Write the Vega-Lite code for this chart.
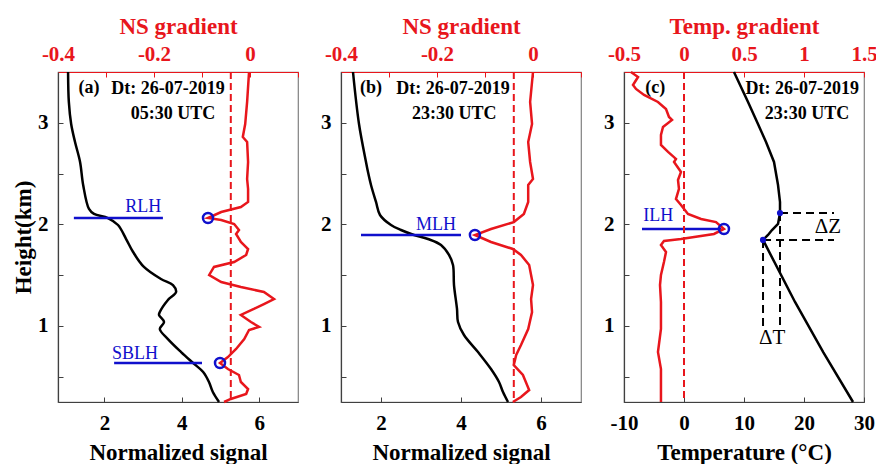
{
  "$schema": "https://vega.github.io/schema/vega-lite/v6.json",
  "background": "white",
  "padding": {"left": 11, "top": 14, "right": 5, "bottom": 5},
  "spacing": 43,
  "bounds": "flush",
  "datasets": {
    "a_sig": [{"h":3.5,"s":1.06},{"h":3.205,"s":1.08},{"h":2.988,"s":1.14},{"h":2.81,"s":1.24},{"h":2.614,"s":1.37},{"h":2.387,"s":1.45},{"h":2.151,"s":1.6},{"h":2.102,"s":1.73},{"h":2.062,"s":2.09},{"h":1.993,"s":2.35},{"h":1.855,"s":2.56},{"h":1.727,"s":2.74},{"h":1.58,"s":3.02},{"h":1.461,"s":3.46},{"h":1.402,"s":3.77},{"h":1.333,"s":3.85},{"h":1.255,"s":3.64},{"h":1.136,"s":3.43},{"h":1.107,"s":3.41},{"h":1.038,"s":3.54},{"h":0.969,"s":3.43},{"h":0.87,"s":3.64},{"h":0.742,"s":3.98},{"h":0.634,"s":4.29},{"h":0.545,"s":4.55},{"h":0.447,"s":4.7},{"h":0.348,"s":4.8},{"h":0.25,"s":4.96}],
    "a_grad": [{"h":3.5,"g":-0.002},{"h":3.205,"g":-0.006},{"h":2.988,"g":-0.01},{"h":2.86,"g":-0.015},{"h":2.81,"g":-0.006},{"h":2.614,"g":-0.004},{"h":2.446,"g":-0.006},{"h":2.348,"g":-0.004},{"h":2.22,"g":-0.004},{"h":2.17,"g":-0.019},{"h":2.121,"g":-0.06},{"h":2.062,"g":-0.0875},{"h":2.042,"g":-0.06},{"h":2.003,"g":-0.033},{"h":1.944,"g":-0.023},{"h":1.905,"g":-0.029},{"h":1.826,"g":-0.019},{"h":1.757,"g":-0.004},{"h":1.698,"g":-0.008},{"h":1.629,"g":-0.033},{"h":1.58,"g":-0.075},{"h":1.501,"g":-0.085},{"h":1.432,"g":-0.06},{"h":1.383,"g":-0.019},{"h":1.333,"g":0.029},{"h":1.264,"g":0.05},{"h":1.215,"g":0.029},{"h":1.166,"g":0.008},{"h":1.107,"g":-0.019},{"h":1.038,"g":0.002},{"h":0.989,"g":0.019},{"h":0.959,"g":-0.002},{"h":0.87,"g":-0.012},{"h":0.772,"g":-0.029},{"h":0.693,"g":-0.046},{"h":0.634,"g":-0.0625},{"h":0.575,"g":-0.046},{"h":0.516,"g":-0.023},{"h":0.447,"g":-0.019},{"h":0.378,"g":-0.004},{"h":0.329,"g":-0.008},{"h":0.28,"g":-0.04},{"h":0.25,"g":-0.054}],
    "a_blh": [{"h":2.062,"s":1.21,"s2":3.51},{"h":0.634,"s":2.25,"s2":4.52}],
    "a_lab": [{"s":3.0,"h":2.12,"label":"RLH"},{"s":2.79,"h":0.674,"label":"SBLH"}],
    "a_ann": [{"s":1.6,"h":3.296,"label":"(a)"},{"s":3.64,"h":3.28,"label":"Dt: 26-07-2019"},{"s":3.77,"h":3.034,"label":"05:30 UTC"}],
    "a_thr": [{"g":-0.04}],
    "a_circ": [{"g":-0.0875,"h":2.062},{"g":-0.0625,"h":0.634}],
    "b_sig": [{"h":3.5,"s":1.3},{"h":2.988,"s":1.45},{"h":2.614,"s":1.625},{"h":2.515,"s":1.675},{"h":2.387,"s":1.75},{"h":2.22,"s":1.875},{"h":2.092,"s":1.975},{"h":1.993,"s":2.25},{"h":1.944,"s":2.5},{"h":1.895,"s":2.825},{"h":1.855,"s":3.175},{"h":1.796,"s":3.5},{"h":1.698,"s":3.7},{"h":1.599,"s":3.8},{"h":1.402,"s":3.825},{"h":1.166,"s":3.9},{"h":1.038,"s":3.925},{"h":0.91,"s":4.075},{"h":0.742,"s":4.425},{"h":0.575,"s":4.75},{"h":0.447,"s":4.95},{"h":0.348,"s":5.05},{"h":0.25,"s":5.175}],
    "b_grad": [{"h":3.5,"g":0.0},{"h":3.205,"g":-0.006},{"h":2.988,"g":-0.002},{"h":2.81,"g":-0.01},{"h":2.614,"g":-0.006},{"h":2.446,"g":0.0},{"h":2.387,"g":-0.01},{"h":2.22,"g":-0.01},{"h":2.102,"g":-0.019},{"h":2.022,"g":-0.04},{"h":1.954,"g":-0.0875},{"h":1.895,"g":-0.121},{"h":1.826,"g":-0.0875},{"h":1.757,"g":-0.042},{"h":1.698,"g":-0.025},{"h":1.599,"g":-0.008},{"h":1.501,"g":-0.004},{"h":1.402,"g":0.0},{"h":1.264,"g":-0.004},{"h":1.136,"g":-0.002},{"h":0.969,"g":-0.01},{"h":0.811,"g":-0.025},{"h":0.713,"g":-0.035},{"h":0.614,"g":-0.04},{"h":0.516,"g":-0.021},{"h":0.368,"g":-0.008},{"h":0.299,"g":-0.025},{"h":0.25,"g":-0.042}],
    "b_blh": [{"h":1.895,"s":1.5,"s2":4.0}],
    "b_lab": [{"s":3.375,"h":1.944,"label":"MLH"}],
    "b_ann": [{"s":1.75,"h":3.296,"label":"(b)"},{"s":3.8,"h":3.28,"label":"Dt: 26-07-2019"},{"s":3.83,"h":3.034,"label":"23:30 UTC"}],
    "b_thr": [{"g":-0.04}],
    "b_circ": [{"g":-0.121,"h":1.895}],
    "c_temp": [{"h":3.5,"T":8.33},{"h":3.205,"T":10.67},{"h":2.988,"T":12.33},{"h":2.81,"T":13.67},{"h":2.614,"T":15.0},{"h":2.387,"T":15.67},{"h":2.22,"T":16.0},{"h":2.111,"T":16.0},{"h":2.003,"T":15.67},{"h":1.944,"T":14.67},{"h":1.895,"T":14.0},{"h":1.846,"T":13.17},{"h":1.235,"T":18.5},{"h":0.742,"T":23.2},{"h":0.25,"T":28.17}],
    "c_grad": [{"h":3.5,"G":-0.442},{"h":3.451,"G":-0.383},{"h":3.372,"G":-0.425},{"h":3.333,"G":-0.4},{"h":3.274,"G":-0.333},{"h":3.205,"G":-0.217},{"h":3.136,"G":-0.15},{"h":3.057,"G":-0.125},{"h":3.028,"G":-0.1},{"h":2.959,"G":-0.175},{"h":2.88,"G":-0.192},{"h":2.782,"G":-0.192},{"h":2.713,"G":-0.133},{"h":2.644,"G":-0.067},{"h":2.614,"G":-0.083},{"h":2.515,"G":-0.025},{"h":2.437,"G":-0.05},{"h":2.348,"G":-0.042},{"h":2.249,"G":-0.067},{"h":2.19,"G":-0.025},{"h":2.102,"G":0.033},{"h":2.052,"G":0.142},{"h":2.022,"G":0.267},{"h":1.954,"G":0.333},{"h":1.905,"G":0.25},{"h":1.855,"G":-0.025},{"h":1.836,"G":-0.167},{"h":1.796,"G":-0.192},{"h":1.727,"G":-0.15},{"h":1.629,"G":-0.167},{"h":1.501,"G":-0.192},{"h":1.402,"G":-0.2},{"h":1.235,"G":-0.192},{"h":0.969,"G":-0.192},{"h":0.742,"G":-0.217},{"h":0.575,"G":-0.192},{"h":0.25,"G":-0.192}],
    "c_ilh": [{"h":1.954,"T":-7,"T2":6.2}],
    "c_lab": [{"T":-4.3,"h":2.033,"label":"ILH"}],
    "c_dash_h": [{"h":2.111,"T":16.0,"T2":25},{"h":1.846,"T":13.17,"T2":25}],
    "c_dash_v": [{"T":13.17,"h":1.846,"h2":0.99},{"T":16.0,"h":2.111,"h2":0.99}],
    "c_dots": [{"h":2.111,"T":16.0},{"h":1.846,"T":13.17}],
    "c_delta": [{"T":24,"h":1.914,"label":"ΔZ"},{"T":14.7,"h":0.82,"label":"ΔT"}],
    "c_ann": [{"T":-4.8,"h":3.296,"label":"(c)"},{"T":19.7,"h":3.28,"label":"Dt: 26-07-2019"},{"T":20.5,"h":3.034,"label":"23:30 UTC"}],
    "c_thr": [{"G":0}],
    "c_circ": [{"G":0.333,"h":1.954}]
  },
  "hconcat": [
    {
      "width": 240, "height": 330,
      "resolve": {"scale": {"x": "independent"}, "axis": {"x": "independent"}},
      "layer": [
        {"layer": [
          {"data": {"name": "a_sig"}, "mark": {"type": "line", "color": "#000000", "strokeWidth": 2.5, "interpolate": "catmull-rom"},
           "encoding": {
             "x": {"field": "s", "type": "quantitative", "scale": {"domain": [0.8, 7], "nice": false, "zero": false}, "axis": {"orient": "bottom", "values": [2, 4, 6], "format": "d", "title": "Normalized signal"}},
             "y": {"field": "h", "type": "quantitative", "scale": {"domain": [0.25, 3.5], "nice": false, "zero": false}, "axis": {"values": [0.5, 1, 1.5, 2, 2.5, 3], "labelExpr": "datum.value % 1 == 0 ? format(datum.value, 'd') : ''", "title": "Height(km)"}},
             "order": {"field": "h", "type": "quantitative"}}},
          {"data": {"name": "a_blh"}, "mark": {"type": "rule", "color": "#1010cc", "strokeWidth": 2.5},
           "encoding": {
             "x": {"field": "s", "type": "quantitative", "title": "Normalized signal", "scale": {"domain": [0.8, 7], "nice": false, "zero": false}},
             "x2": {"field": "s2"},
             "y": {"field": "h", "type": "quantitative", "scale": {"domain": [0.25, 3.5], "nice": false, "zero": false}}}},
          {"data": {"name": "a_lab"}, "mark": {"type": "text", "color": "#1010cc", "font": "Liberation Serif", "fontSize": 18, "align": "center", "baseline": "alphabetic"},
           "encoding": {
             "x": {"field": "s", "type": "quantitative", "title": "Normalized signal", "scale": {"domain": [0.8, 7], "nice": false, "zero": false}},
             "y": {"field": "h", "type": "quantitative", "scale": {"domain": [0.25, 3.5], "nice": false, "zero": false}},
             "text": {"field": "label"}}},
          {"data": {"name": "a_ann"}, "mark": {"type": "text", "color": "#000000", "font": "Liberation Serif", "fontWeight": "bold", "fontSize": 18, "align": "center", "baseline": "alphabetic"},
           "encoding": {
             "x": {"field": "s", "type": "quantitative", "title": "Normalized signal", "scale": {"domain": [0.8, 7], "nice": false, "zero": false}},
             "y": {"field": "h", "type": "quantitative", "scale": {"domain": [0.25, 3.5], "nice": false, "zero": false}},
             "text": {"field": "label"}}}
        ]},
        {"layer": [
          {"data": {"name": "a_grad"}, "mark": {"type": "line", "color": "#e8161c", "strokeWidth": 2.5},
           "encoding": {
             "x": {"field": "g", "type": "quantitative", "scale": {"domain": [-0.4, 0.1], "nice": false, "zero": false}, "axis": {"orient": "top", "values": [-0.4, -0.3, -0.2, -0.1, 0, 0.1], "labelExpr": "datum.value == 0 ? '0' : (abs(round(datum.value*10)) % 2 == 0 ? (datum.value < 0 ? '-' : '') + format(abs(datum.value), '.1f') : '')", "title": "NS gradient"}},
             "y": {"field": "h", "type": "quantitative", "scale": {"domain": [0.25, 3.5], "nice": false, "zero": false}},
             "order": {"field": "h", "type": "quantitative"}}},
          {"data": {"name": "a_thr"}, "mark": {"type": "rule", "color": "#e8161c", "strokeWidth": 2, "strokeDash": [7, 4]},
           "encoding": {"x": {"field": "g", "type": "quantitative", "title": "NS gradient", "scale": {"domain": [-0.4, 0.1], "nice": false, "zero": false}}}},
          {"data": {"name": "a_circ"}, "mark": {"type": "point", "shape": "circle", "filled": false, "color": "#1010cc", "strokeWidth": 2.5, "size": 100, "opacity": 1},
           "encoding": {
             "x": {"field": "g", "type": "quantitative", "title": "NS gradient", "scale": {"domain": [-0.4, 0.1], "nice": false, "zero": false}},
             "y": {"field": "h", "type": "quantitative", "scale": {"domain": [0.25, 3.5], "nice": false, "zero": false}}}}
        ]}
      ]
    },
    {
      "width": 240, "height": 330,
      "resolve": {"scale": {"x": "independent"}, "axis": {"x": "independent"}},
      "layer": [
        {"layer": [
          {"data": {"name": "b_sig"}, "mark": {"type": "line", "color": "#000000", "strokeWidth": 2.5, "interpolate": "catmull-rom"},
           "encoding": {
             "x": {"field": "s", "type": "quantitative", "scale": {"domain": [1, 7], "nice": false, "zero": false}, "axis": {"orient": "bottom", "values": [2, 4, 6], "format": "d", "title": "Normalized signal"}},
             "y": {"field": "h", "type": "quantitative", "scale": {"domain": [0.25, 3.5], "nice": false, "zero": false}, "axis": {"values": [0.5, 1, 1.5, 2, 2.5, 3], "labelExpr": "datum.value % 1 == 0 ? format(datum.value, 'd') : ''", "title": null}},
             "order": {"field": "h", "type": "quantitative"}}},
          {"data": {"name": "b_blh"}, "mark": {"type": "rule", "color": "#1010cc", "strokeWidth": 2.5},
           "encoding": {
             "x": {"field": "s", "type": "quantitative", "title": "Normalized signal", "scale": {"domain": [1, 7], "nice": false, "zero": false}},
             "x2": {"field": "s2"},
             "y": {"field": "h", "type": "quantitative", "title": null, "scale": {"domain": [0.25, 3.5], "nice": false, "zero": false}}}},
          {"data": {"name": "b_lab"}, "mark": {"type": "text", "color": "#1010cc", "font": "Liberation Serif", "fontSize": 18, "align": "center", "baseline": "alphabetic"},
           "encoding": {
             "x": {"field": "s", "type": "quantitative", "title": "Normalized signal", "scale": {"domain": [1, 7], "nice": false, "zero": false}},
             "y": {"field": "h", "type": "quantitative", "title": null, "scale": {"domain": [0.25, 3.5], "nice": false, "zero": false}},
             "text": {"field": "label"}}},
          {"data": {"name": "b_ann"}, "mark": {"type": "text", "color": "#000000", "font": "Liberation Serif", "fontWeight": "bold", "fontSize": 18, "align": "center", "baseline": "alphabetic"},
           "encoding": {
             "x": {"field": "s", "type": "quantitative", "title": "Normalized signal", "scale": {"domain": [1, 7], "nice": false, "zero": false}},
             "y": {"field": "h", "type": "quantitative", "title": null, "scale": {"domain": [0.25, 3.5], "nice": false, "zero": false}},
             "text": {"field": "label"}}}
        ]},
        {"layer": [
          {"data": {"name": "b_grad"}, "mark": {"type": "line", "color": "#e8161c", "strokeWidth": 2.5},
           "encoding": {
             "x": {"field": "g", "type": "quantitative", "scale": {"domain": [-0.4, 0.1], "nice": false, "zero": false}, "axis": {"orient": "top", "values": [-0.4, -0.3, -0.2, -0.1, 0, 0.1], "labelExpr": "datum.value == 0 ? '0' : (abs(round(datum.value*10)) % 2 == 0 ? (datum.value < 0 ? '-' : '') + format(abs(datum.value), '.1f') : '')", "title": "NS gradient"}},
             "y": {"field": "h", "type": "quantitative", "title": null, "scale": {"domain": [0.25, 3.5], "nice": false, "zero": false}},
             "order": {"field": "h", "type": "quantitative"}}},
          {"data": {"name": "b_thr"}, "mark": {"type": "rule", "color": "#e8161c", "strokeWidth": 2, "strokeDash": [7, 4]},
           "encoding": {"x": {"field": "g", "type": "quantitative", "title": "NS gradient", "scale": {"domain": [-0.4, 0.1], "nice": false, "zero": false}}}},
          {"data": {"name": "b_circ"}, "mark": {"type": "point", "shape": "circle", "filled": false, "color": "#1010cc", "strokeWidth": 2.5, "size": 100, "opacity": 1},
           "encoding": {
             "x": {"field": "g", "type": "quantitative", "title": "NS gradient", "scale": {"domain": [-0.4, 0.1], "nice": false, "zero": false}},
             "y": {"field": "h", "type": "quantitative", "title": null, "scale": {"domain": [0.25, 3.5], "nice": false, "zero": false}}}}
        ]}
      ]
    },
    {
      "width": 240, "height": 330,
      "resolve": {"scale": {"x": "independent"}, "axis": {"x": "independent"}},
      "layer": [
        {"layer": [
          {"data": {"name": "c_temp"}, "mark": {"type": "line", "color": "#000000", "strokeWidth": 2.5},
           "encoding": {
             "x": {"field": "T", "type": "quantitative", "scale": {"domain": [-10, 30], "nice": false, "zero": false}, "axis": {"orient": "bottom", "values": [-10, -5, 0, 5, 10, 15, 20, 25, 30], "labelExpr": "datum.value % 10 == 0 ? (datum.value < 0 ? '-' : '') + format(abs(datum.value), 'd') : ''", "title": "Temperature (°C)"}},
             "y": {"field": "h", "type": "quantitative", "scale": {"domain": [0.25, 3.5], "nice": false, "zero": false}, "axis": {"values": [0.5, 1, 1.5, 2, 2.5, 3], "labelExpr": "datum.value % 1 == 0 ? format(datum.value, 'd') : ''", "title": null}},
             "order": {"field": "h", "type": "quantitative"}}},
          {"data": {"name": "c_dash_h"}, "mark": {"type": "rule", "color": "#000000", "strokeWidth": 2, "strokeDash": [8, 5]},
           "encoding": {
             "x": {"field": "T", "type": "quantitative", "title": "Temperature (°C)", "scale": {"domain": [-10, 30], "nice": false, "zero": false}},
             "x2": {"field": "T2"},
             "y": {"field": "h", "type": "quantitative", "title": null, "scale": {"domain": [0.25, 3.5], "nice": false, "zero": false}}}},
          {"data": {"name": "c_dash_v"}, "mark": {"type": "rule", "color": "#000000", "strokeWidth": 2, "strokeDash": [8, 5]},
           "encoding": {
             "x": {"field": "T", "type": "quantitative", "title": "Temperature (°C)", "scale": {"domain": [-10, 30], "nice": false, "zero": false}},
             "y": {"field": "h", "type": "quantitative", "title": null, "scale": {"domain": [0.25, 3.5], "nice": false, "zero": false}},
             "y2": {"field": "h2"}}},
          {"data": {"name": "c_dots"}, "mark": {"type": "point", "shape": "circle", "filled": true, "color": "#1010cc", "size": 38, "opacity": 1},
           "encoding": {
             "x": {"field": "T", "type": "quantitative", "title": "Temperature (°C)", "scale": {"domain": [-10, 30], "nice": false, "zero": false}},
             "y": {"field": "h", "type": "quantitative", "title": null, "scale": {"domain": [0.25, 3.5], "nice": false, "zero": false}}}},
          {"data": {"name": "c_ilh"}, "mark": {"type": "rule", "color": "#1010cc", "strokeWidth": 2.5},
           "encoding": {
             "x": {"field": "T", "type": "quantitative", "title": "Temperature (°C)", "scale": {"domain": [-10, 30], "nice": false, "zero": false}},
             "x2": {"field": "T2"},
             "y": {"field": "h", "type": "quantitative", "title": null, "scale": {"domain": [0.25, 3.5], "nice": false, "zero": false}}}},
          {"data": {"name": "c_lab"}, "mark": {"type": "text", "color": "#1010cc", "font": "Liberation Serif", "fontSize": 18, "align": "center", "baseline": "alphabetic"},
           "encoding": {
             "x": {"field": "T", "type": "quantitative", "title": "Temperature (°C)", "scale": {"domain": [-10, 30], "nice": false, "zero": false}},
             "y": {"field": "h", "type": "quantitative", "title": null, "scale": {"domain": [0.25, 3.5], "nice": false, "zero": false}},
             "text": {"field": "label"}}},
          {"data": {"name": "c_delta"}, "mark": {"type": "text", "color": "#000000", "font": "Liberation Serif", "fontSize": 21, "align": "center", "baseline": "alphabetic"},
           "encoding": {
             "x": {"field": "T", "type": "quantitative", "title": "Temperature (°C)", "scale": {"domain": [-10, 30], "nice": false, "zero": false}},
             "y": {"field": "h", "type": "quantitative", "title": null, "scale": {"domain": [0.25, 3.5], "nice": false, "zero": false}},
             "text": {"field": "label"}}},
          {"data": {"name": "c_ann"}, "mark": {"type": "text", "color": "#000000", "font": "Liberation Serif", "fontWeight": "bold", "fontSize": 18, "align": "center", "baseline": "alphabetic"},
           "encoding": {
             "x": {"field": "T", "type": "quantitative", "title": "Temperature (°C)", "scale": {"domain": [-10, 30], "nice": false, "zero": false}},
             "y": {"field": "h", "type": "quantitative", "title": null, "scale": {"domain": [0.25, 3.5], "nice": false, "zero": false}},
             "text": {"field": "label"}}}
        ]},
        {"layer": [
          {"data": {"name": "c_grad"}, "mark": {"type": "line", "color": "#e8161c", "strokeWidth": 2.5},
           "encoding": {
             "x": {"field": "G", "type": "quantitative", "scale": {"domain": [-0.5, 1.5], "nice": false, "zero": false}, "axis": {"orient": "top", "values": [-0.5, -0.25, 0, 0.25, 0.5, 0.75, 1, 1.25, 1.5], "labelExpr": "abs(round(datum.value*4)) % 2 == 0 ? (datum.value < 0 ? '-' : '') + format(abs(datum.value), '~g') : ''", "title": "Temp. gradient"}},
             "y": {"field": "h", "type": "quantitative", "title": null, "scale": {"domain": [0.25, 3.5], "nice": false, "zero": false}},
             "order": {"field": "h", "type": "quantitative"}}},
          {"data": {"name": "c_thr"}, "mark": {"type": "rule", "color": "#e8161c", "strokeWidth": 2, "strokeDash": [7, 4]},
           "encoding": {"x": {"field": "G", "type": "quantitative", "title": "Temp. gradient", "scale": {"domain": [-0.5, 1.5], "nice": false, "zero": false}}}},
          {"data": {"name": "c_circ"}, "mark": {"type": "point", "shape": "circle", "filled": false, "color": "#1010cc", "strokeWidth": 2.5, "size": 100, "opacity": 1},
           "encoding": {
             "x": {"field": "G", "type": "quantitative", "title": "Temp. gradient", "scale": {"domain": [-0.5, 1.5], "nice": false, "zero": false}},
             "y": {"field": "h", "type": "quantitative", "title": null, "scale": {"domain": [0.25, 3.5], "nice": false, "zero": false}}}}
        ]}
      ]
    }
  ],
  "config": {
    "font": "Liberation Serif",
    "view": {"stroke": "#808080", "strokeWidth": 1.2},
    "axis": {"grid": false, "labelFont": "Liberation Serif", "labelFontWeight": "bold", "labelFontSize": 21, "labelColor": "#000000", "titleFont": "Liberation Serif", "titleFontWeight": "bold", "titleFontSize": 23, "titleColor": "#000000", "domainColor": "#404040", "tickColor": "#404040", "domainWidth": 1.2, "tickWidth": 1, "tickSize": -5, "labelFlush": false, "labelOverlap": false, "labelBound": false},
    "axisBottom": {"labelPadding": 15, "titlePadding": 8},
    "axisTop": {"labelPadding": 12.6, "titlePadding": 5, "labelColor": "#e8161c", "titleColor": "#e8161c", "domainColor": "#e8161c", "tickColor": "#e8161c"},
    "axisLeft": {"labelPadding": 15, "titlePadding": 2.5}
  }
}
